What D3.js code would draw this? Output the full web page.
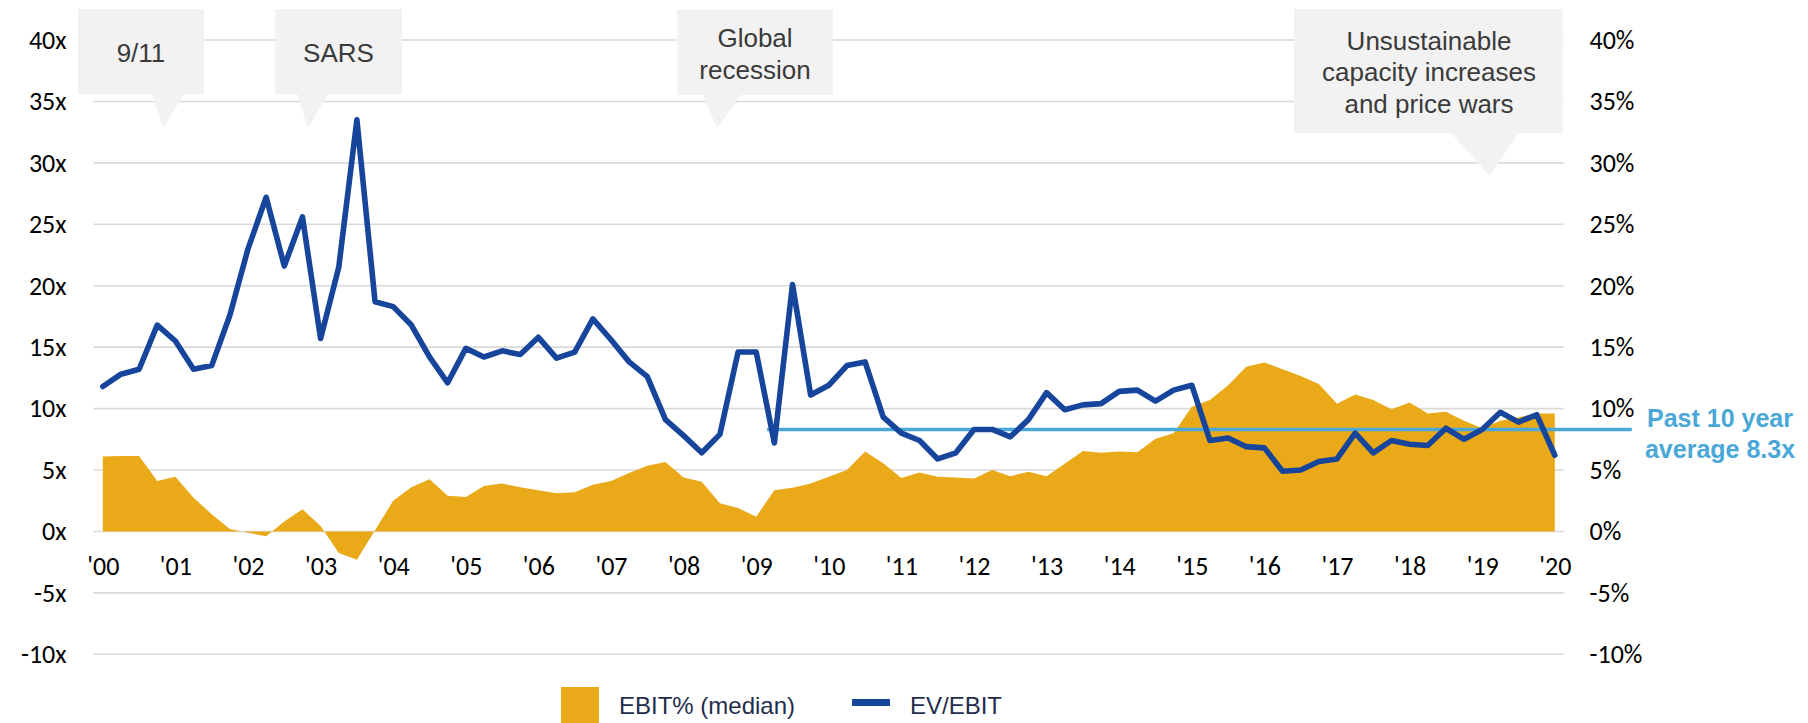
<!DOCTYPE html>
<html>
<head>
<meta charset="utf-8">
<script src="https://cdn.jsdelivr.net/npm/d3@7/dist/d3.min.js"></script>
<style>
  html, body { margin: 0; padding: 0; background: #fff; }
  svg { display: block; }
</style>
</head>
<body>
<svg id="chart" width="1808" height="723"></svg>
<script>
// Quarterly EV/EBIT multiple (x), Q1 2000 – Q1 2020
const evEbit = [
  11.8, 12.8, 13.2, 16.8, 15.5, 13.2, 13.5, 17.6,
  23.0, 27.2, 21.6, 25.6, 15.7, 21.5, 33.5, 18.7,
  18.3, 16.8, 14.2, 12.1, 14.9, 14.2, 14.7, 14.4,
  15.8, 14.1, 14.6, 17.3, 15.6, 13.8, 12.6, 9.1,
  7.8, 6.4, 7.9, 14.6, 14.6, 7.2, 20.1, 11.1,
  11.9, 13.5, 13.8, 9.3, 8.0, 7.4, 5.9, 6.4,
  8.3, 8.3, 7.7, 9.1, 11.3, 9.9, 10.3, 10.4,
  11.4, 11.5, 10.6, 11.5, 11.9, 7.4, 7.6, 6.9,
  6.8, 4.9, 5.0, 5.7, 5.9, 8.0, 6.4, 7.4,
  7.1, 7.0, 8.4, 7.5, 8.3, 9.7, 8.9, 9.5,
  6.2
];

// Quarterly median EBIT margin (%), same quarters
const ebitMargin = [
  6.1, 6.15, 6.15, 4.1, 4.45, 2.75, 1.4, 0.2,
  -0.1, -0.4, 0.8, 1.8, 0.45, -1.75, -2.3, 0.1,
  2.5, 3.6, 4.25, 2.9, 2.8, 3.7, 3.9, 3.6,
  3.35, 3.1, 3.2, 3.8, 4.1, 4.75, 5.35, 5.65,
  4.4, 4.05, 2.3, 1.9, 1.2, 3.35, 3.55, 3.9,
  4.45, 5.0, 6.5, 5.55, 4.35, 4.8, 4.45, 4.4,
  4.3, 5.0, 4.5, 4.85, 4.5, 5.5, 6.55, 6.4,
  6.5, 6.45, 7.55, 8.0, 10.15, 10.7, 11.9, 13.4,
  13.75, 13.2, 12.65, 12.0, 10.4, 11.15, 10.7, 9.95,
  10.5, 9.6, 9.75, 9.0, 8.4, 9.0, 9.3, 9.6,
  9.6
];

// Quarter dates as decimal years
const quarters = d3.range(evEbit.length).map(i => 2000 + i / 4);

const yearTicks = d3.range(2000, 2021);
const yearLabels = yearTicks.map(y => "'" + String(y % 100).padStart(2, "0"));

const leftTicks = [-10, -5, 0, 5, 10, 15, 20, 25, 30, 35, 40];
const leftTickLabels = ["-10x", "-5x", "0x", "5x", "10x", "15x", "20x", "25x", "30x", "35x", "40x"];
const rightTicks = [-10, -5, 0, 5, 10, 15, 20, 25, 30, 35, 40];
const rightTickLabels = ["-10%", "-5%", "0%", "5%", "10%", "15%", "20%", "25%", "30%", "35%", "40%"];

// Ten-year average multiple and the span it is drawn over
const avgMultiple = 8.3;
const avgSpan = [2009.15, 2021.06];

const seriesNames = ["EBIT% (median)", "EV/EBIT"];

// Event callouts
const events = [
  { lines: ["9/11"] },
  { lines: ["SARS"] },
  { lines: ["Global", "recession"] },
  { lines: ["Unsustainable", "capacity increases", "and price wars"] }
];

// ---- layout & style ----
const COLORS = {
  area: "#eaa918",
  line: "#17459c",
  avg: "#4aa8d8",
  grid: "#d9d9d9",
  callout: "#f2f2f2",
  calloutText: "#3a3a3a",
  legendText: "#1f2d4d"
};
const gridX0 = 93.5, gridX1 = 1563.5;

const svg = d3.select("#chart");

const x = d3.scaleLinear().domain([2000, 2020]).range([102.8, 1554.8]);
const y = d3.scaleLinear().domain([-10, 40]).range([654.3, 40]);

// gridlines
svg.append("g")
  .selectAll("line")
  .data(leftTicks)
  .join("line")
  .attr("x1", gridX0).attr("x2", gridX1)
  .attr("y1", d => y(d)).attr("y2", d => y(d))
  .attr("stroke", COLORS.grid)
  .attr("stroke-width", 1.6);

// EBIT margin area
const area = d3.area()
  .x((d, i) => x(quarters[i]))
  .y0(y(0))
  .y1(d => y(d));
svg.append("path")
  .datum(ebitMargin)
  .attr("d", area)
  .attr("fill", COLORS.area);

// ten-year average
svg.append("line")
  .attr("x1", x(avgSpan[0])).attr("x2", x(avgSpan[1]))
  .attr("y1", y(avgMultiple)).attr("y2", y(avgMultiple))
  .attr("stroke", COLORS.avg)
  .attr("stroke-width", 3.5);

// EV/EBIT line
const line = d3.line()
  .x((d, i) => x(quarters[i]))
  .y(d => y(d));
svg.append("path")
  .datum(evEbit)
  .attr("d", line)
  .attr("fill", "none")
  .attr("stroke", COLORS.line)
  .attr("stroke-width", 5.6)
  .attr("stroke-linejoin", "round")
  .attr("stroke-linecap", "round");

// axes
const axisFont = "Carlito, Lato, 'Noto Sans', sans-serif";

const xAxis = d3.axisBottom(x)
  .tickValues(yearTicks)
  .tickFormat((d, i) => yearLabels[i])
  .tickSize(0)
  .tickPadding(25);
const gx = svg.append("g").attr("transform", `translate(0,${y(0)})`).call(xAxis);

const yLeft = d3.axisLeft(y)
  .tickValues(leftTicks)
  .tickFormat((d, i) => leftTickLabels[i])
  .tickSize(0)
  .tickPadding(27);
const gl = svg.append("g").attr("transform", `translate(${gridX0},0)`).call(yLeft);

const yRight = d3.axisRight(y)
  .tickValues(rightTicks)
  .tickFormat((d, i) => rightTickLabels[i])
  .tickSize(0)
  .tickPadding(26);
const gr = svg.append("g").attr("transform", `translate(${gridX1},0)`).call(yRight);

[gx, gl, gr].forEach(g => {
  g.attr("font-size", null).attr("font-family", null);
  g.select(".domain").remove();
  g.selectAll("text")
    .attr("fill", "#000")
    .style("font-family", axisFont)
    .style("font-size", "26px");
});

// average label
const avgLabel = svg.append("text")
  .attr("text-anchor", "middle")
  .attr("fill", COLORS.avg)
  .style("font-family", "'Liberation Sans', Arial, sans-serif")
  .style("font-weight", "bold")
  .style("font-size", "25px");
avgLabel.append("tspan").attr("x", 1720).attr("y", 427).text("Past 10 year");
avgLabel.append("tspan").attr("x", 1720).attr("y", 458).text("average " + avgMultiple + "x");

// callouts
const calloutBoxes = [
  { x: 78, y: 9, w: 126, h: 85, tri: [[152, 94], [184, 94], [163, 128]], cx: 141, base: [62] },
  { x: 275, y: 9, w: 127, h: 85, tri: [[297, 94], [328, 94], [308, 128]], cx: 338.5, base: [62] },
  { x: 677, y: 10, w: 156, h: 85, tri: [[703, 95], [741, 95], [717, 128]], cx: 755, base: [47, 79] },
  { x: 1294, y: 9, w: 269, h: 124, tri: [[1451, 133], [1518, 133], [1490, 176]], cx: 1429, base: [49.5, 81, 112.5] }
];

const co = svg.append("g").selectAll("g")
  .data(events)
  .join("g");
co.append("rect")
  .attr("x", (d, i) => calloutBoxes[i].x)
  .attr("y", (d, i) => calloutBoxes[i].y)
  .attr("width", (d, i) => calloutBoxes[i].w)
  .attr("height", (d, i) => calloutBoxes[i].h)
  .attr("fill", COLORS.callout);
co.append("polygon")
  .attr("points", (d, i) => calloutBoxes[i].tri.map(p => p.join(",")).join(" "))
  .attr("fill", COLORS.callout);
co.each(function (d, i) {
  const t = d3.select(this).append("text")
    .attr("text-anchor", "middle")
    .attr("fill", COLORS.calloutText)
    .style("font-family", "'Liberation Sans', Arial, sans-serif")
    .style("font-size", "26px");
  d.lines.forEach((ln, j) => {
    t.append("tspan")
      .attr("x", calloutBoxes[i].cx)
      .attr("y", calloutBoxes[i].base[j])
      .text(ln);
  });
});

// legend
const legend = svg.append("g")
  .style("font-family", "'Liberation Sans', Arial, sans-serif")
  .style("font-size", "24px");
legend.append("rect")
  .attr("x", 561).attr("y", 687).attr("width", 38).attr("height", 38)
  .attr("fill", COLORS.area);
legend.append("text")
  .attr("x", 619).attr("y", 714)
  .attr("fill", COLORS.legendText)
  .text(seriesNames[0]);
legend.append("rect")
  .attr("x", 852).attr("y", 699).attr("width", 38).attr("height", 7)
  .attr("fill", COLORS.line);
legend.append("text")
  .attr("x", 910).attr("y", 714)
  .attr("fill", COLORS.legendText)
  .text(seriesNames[1]);
</script>
</body>
</html>
